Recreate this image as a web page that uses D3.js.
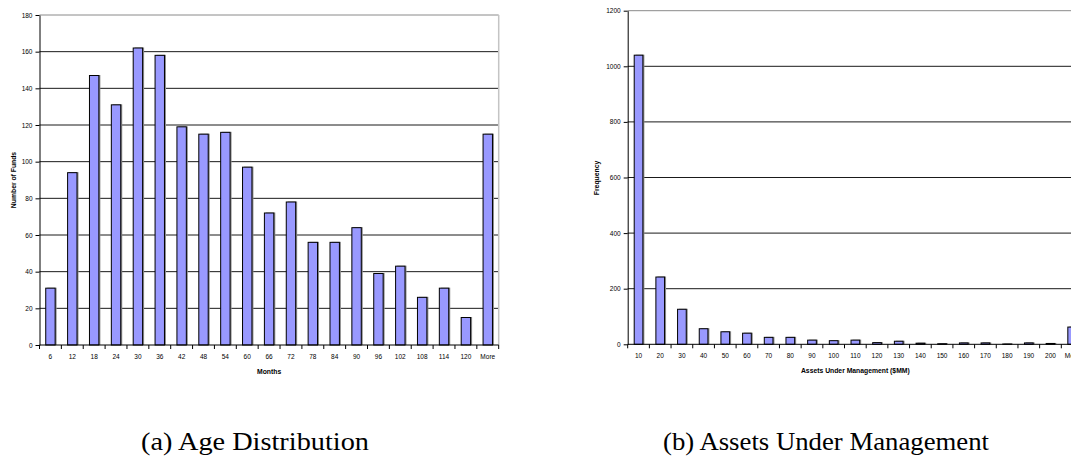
<!DOCTYPE html>
<html>
<head>
<meta charset="utf-8">
<script src="https://cdn.jsdelivr.net/npm/d3@7"></script>
<style>
  html, body { margin: 0; padding: 0; background: #fff; }
  svg { display: block; }
  .tick text { font-family: "Liberation Sans", Arial, sans-serif; }
</style>
</head>
<body>
<svg id="fig" width="1071" height="457"></svg>
<script>
// Fund age histogram (months)
const ageBins = ["6","12","18","24","30","36","42","48","54","60","66","72","78","84","90","96","102","108","114","120","More"];
const ageCounts = [31, 94, 147, 131, 162, 158, 119, 115, 116, 97, 72, 78, 56, 56, 64, 39, 43, 26, 31, 15, 115];
const ageTicks = [0, 20, 40, 60, 80, 100, 120, 140, 160, 180];

// Assets under management histogram ($MM)
const aumBins = ["10","20","30","40","50","60","70","80","90","100","110","120","130","140","150","160","170","180","190","200","More"];
const aumCounts = [1040, 242, 126, 56, 45, 40, 25, 25, 15, 13, 15, 6, 11, 4, 2, 5, 5, 1, 5, 3, 62];
const aumTicks = [0, 200, 400, 600, 800, 1000, 1200];

const svg = d3.select("#fig");
const sans = '"Liberation Sans", Arial, sans-serif';
const serif = '"Liberation Serif", "Times New Roman", serif';

function histogram(opts) {
  const g = svg.append("g");
  const x = d3.scaleBand()
    .domain(opts.bins)
    .range([opts.left, opts.right])
    .paddingInner(opts.pad)
    .paddingOuter(opts.pad / 2);
  const y = d3.scaleLinear()
    .domain([0, opts.ticks[opts.ticks.length - 1]])
    .range([opts.bottom, opts.top]);

  // horizontal gridlines
  g.append("g").selectAll("line")
    .data(opts.ticks.slice(1))
    .join("line")
    .attr("x1", opts.left).attr("x2", opts.right)
    .attr("y1", d => y(d)).attr("y2", d => y(d))
    .attr("stroke", (d, i, a) => i === a.length - 1 ? "#8a8a8a" : "#1a1a1a")
    .attr("stroke-width", 1);

  // right border of the plot area
  if (opts.rightBorder) {
    g.append("line")
      .attr("x1", opts.right).attr("x2", opts.right)
      .attr("y1", opts.top).attr("y2", opts.bottom)
      .attr("stroke", "#c4c4c4").attr("stroke-width", 1.5);
  }

  // bars with a soft drop shadow
  const bars = g.append("g");
  bars.selectAll("rect.shadow")
    .data(opts.counts)
    .join("rect")
    .attr("class", "shadow")
    .attr("x", (d, i) => x(opts.bins[i]) + 1.5)
    .attr("y", d => y(d) - 0.5)
    .attr("width", x.bandwidth())
    .attr("height", d => opts.bottom - y(d) + 0.5)
    .attr("fill", "#8c8c8c");
  bars.selectAll("rect.bar")
    .data(opts.counts)
    .join("rect")
    .attr("class", "bar")
    .attr("x", (d, i) => x(opts.bins[i]))
    .attr("y", d => y(d))
    .attr("width", x.bandwidth())
    .attr("height", d => opts.bottom - y(d))
    .attr("fill", "#9999ff")
    .attr("stroke", "#000")
    .attr("stroke-width", 1);

  // y axis
  const yAxis = d3.axisLeft(y).tickValues(opts.ticks).tickFormat(d3.format("d"))
    .tickSize(4).tickSizeOuter(0).tickPadding(3);
  const ya = g.append("g").attr("transform", `translate(${opts.left},0)`).call(yAxis);
  ya.select(".domain").attr("stroke", "#000");
  ya.selectAll(".tick line").attr("stroke", "#000");
  ya.selectAll(".tick text").attr("font-size", 6.5).attr("fill", "#000");

  // x axis: labels centred under bars, tick marks between categories
  const xa = g.append("g").attr("transform", `translate(0,${opts.bottom})`);
  xa.append("line")
    .attr("x1", opts.left).attr("x2", opts.right)
    .attr("stroke", "#000");
  const step = x.step();
  const edges = d3.range(opts.bins.length + 1).map(i => opts.left + i * step);
  xa.selectAll("line.tk")
    .data(edges)
    .join("line")
    .attr("class", "tk")
    .attr("x1", d => d).attr("x2", d => d)
    .attr("y1", 0).attr("y2", 4)
    .attr("stroke", "#000");
  xa.selectAll("text")
    .data(opts.bins)
    .join("text")
    .attr("x", d => x(d) + x.bandwidth() / 2)
    .attr("y", 14)
    .attr("text-anchor", "middle")
    .attr("font-family", sans)
    .attr("font-size", 6.5)
    .attr("fill", "#000")
    .text(d => d);

  // axis titles
  g.append("text")
    .attr("x", (opts.left + opts.right) / 2)
    .attr("y", opts.bottom + 29)
    .attr("text-anchor", "middle")
    .attr("font-family", sans)
    .attr("font-weight", "bold")
    .attr("font-size", 6.8)
    .text(opts.xTitle);
  g.append("text")
    .attr("transform", `translate(${opts.yTitleX},${opts.yTitleY}) rotate(-90)`)
    .attr("text-anchor", "middle")
    .attr("font-family", sans)
    .attr("font-weight", "bold")
    .attr("font-size", 6.8)
    .text(opts.yTitle);
}

histogram({
  bins: ageBins, counts: ageCounts, ticks: ageTicks,
  left: 39.5, right: 498.7, top: 15, bottom: 345, pad: 0.57,
  rightBorder: true,
  xTitle: "Months", yTitle: "Number of Funds",
  yTitleX: 16, yTitleY: 180
});

histogram({
  bins: aumBins, counts: aumCounts, ticks: aumTicks,
  left: 627.7, right: 1083, top: 10.7, bottom: 344.3, pad: 0.6,
  rightBorder: false,
  xTitle: "Assets Under Management ($MM)", yTitle: "Frequency",
  yTitleX: 599, yTitleY: 178
});

// sub-figure captions
svg.append("text")
  .attr("x", 255).attr("y", 450)
  .attr("text-anchor", "middle")
  .attr("font-family", serif)
  .attr("font-size", 25)
  .attr("textLength", 228)
  .attr("lengthAdjust", "spacingAndGlyphs")
  .text("(a) Age Distribution");
svg.append("text")
  .attr("x", 826).attr("y", 450)
  .attr("text-anchor", "middle")
  .attr("font-family", serif)
  .attr("font-size", 25)
  .attr("textLength", 326)
  .attr("lengthAdjust", "spacingAndGlyphs")
  .text("(b) Assets Under Management");
</script>
</body>
</html>
